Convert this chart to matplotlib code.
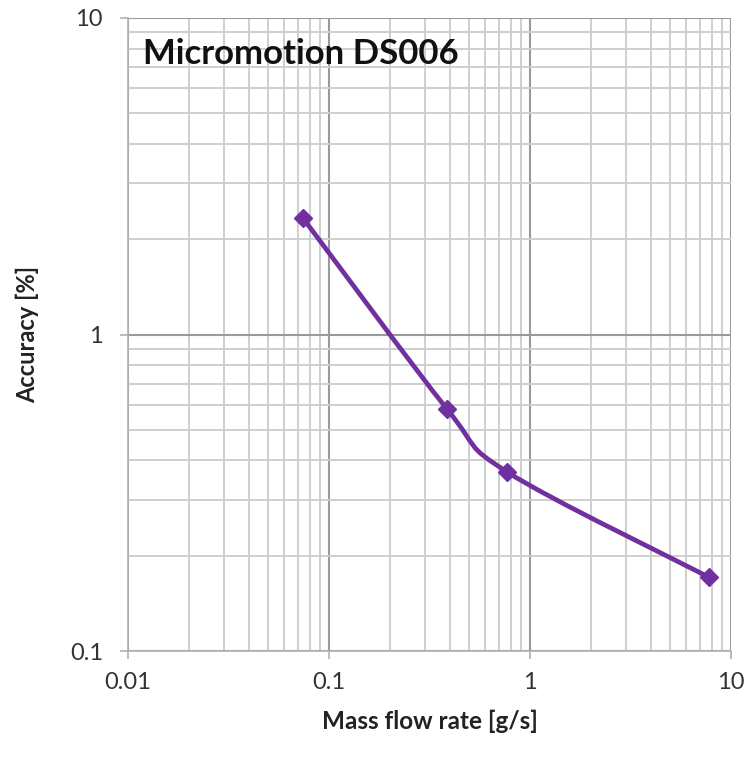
import numpy as np
import matplotlib
matplotlib.use("Agg")
import matplotlib.pyplot as plt
from matplotlib.path import Path
from matplotlib.patches import PathPatch
from matplotlib.ticker import LogLocator, FixedLocator, FixedFormatter, NullFormatter

# ---- data ----
mass_flow = [0.0743, 0.386, 0.769, 7.78]      # g/s
accuracy = [2.33, 0.582, 0.368, 0.171]         # %
title = "Micromotion DS006"
x_label = "Mass flow rate [g/s]"
y_label = "Accuracy [%]"
x_ticks = [0.01, 0.1, 1, 10]
x_tick_labels = ["0.01", "0.1", "1", "10"]
y_ticks = [0.1, 1, 10]
y_tick_labels = ["0.1", "1", "10"]

plt.rcParams['font.family'] = ['Lato', 'DejaVu Sans']

fig = plt.figure(figsize=(7.51, 7.61), dpi=100)
ax = fig.add_axes([128/751, 1-651/761, (731-128)/751, (651-18)/761])
ax.set_xscale('log')
ax.set_yscale('log')
ax.set_xlim(0.01, 10)
ax.set_ylim(0.1, 10)

# grid
ax.xaxis.set_major_locator(FixedLocator(x_ticks))
ax.yaxis.set_major_locator(FixedLocator(y_ticks))
ax.xaxis.set_major_formatter(FixedFormatter(x_tick_labels))
ax.yaxis.set_major_formatter(FixedFormatter(y_tick_labels))
ax.xaxis.set_minor_locator(LogLocator(base=10, subs=np.arange(2, 10)))
ax.yaxis.set_minor_locator(LogLocator(base=10, subs=np.arange(2, 10)))
ax.xaxis.set_minor_formatter(NullFormatter())
ax.yaxis.set_minor_formatter(NullFormatter())
ax.grid(which='major', color='#9a9a9a', linewidth=1.5)
ax.grid(which='minor', color='#cccccc', linewidth=1.3)
ax.set_axisbelow(True)
ax.tick_params(which='minor', length=0)
ax.tick_params(which='major', length=6, width=1.2, color='#b0b0b0', direction='out',
               labelsize=17, labelcolor='#333333')
ax.tick_params(axis='y', pad=12)
ax.tick_params(axis='x', pad=9)
for s in ['top', 'right']:
    ax.spines[s].set_visible(False)
for s in ['left', 'bottom']:
    ax.spines[s].set_color('#b0b0b0')
    ax.spines[s].set_linewidth(1.2)

# smoothed line (Catmull-Rom style Bezier in log space, as Excel smoothing)
lx = np.log10(mass_flow)
ly = np.log10(accuracy)
P = np.column_stack([lx, ly])
n = len(P)
verts = [P[0]]
codes = [Path.MOVETO]
for i in range(n - 1):
    p0 = P[i - 1] if i > 0 else P[i]
    p1 = P[i]
    p2 = P[i + 1]
    p3 = P[i + 2] if i + 2 < n else P[i + 1]
    c1 = p1 + (p2 - p0) / 6.0
    c2 = p2 - (p3 - p1) / 6.0
    verts += [c1, c2, p2]
    codes += [Path.CURVE4] * 3
verts = 10 ** np.array(verts)
path = Path(verts, codes)
ax.add_patch(PathPatch(path, facecolor='none', edgecolor='#7030a0', linewidth=3.4,
                       capstyle='round', joinstyle='round', zorder=3))
ax.plot(mass_flow, accuracy, linestyle='none', marker='D', markersize=9,
        color='#7030a0', zorder=4)

ax.text(0.025, 0.968, title, transform=ax.transAxes, fontsize=25, fontweight='bold',
        color='#111111', ha='left', va='top')
ax.set_xlabel(x_label, fontsize=17.5, fontweight='bold', color='#222222', labelpad=12)
ax.set_ylabel(y_label, fontsize=17, fontweight='bold', color='#222222', labelpad=22)

fig.savefig("out.png", dpi=100)
